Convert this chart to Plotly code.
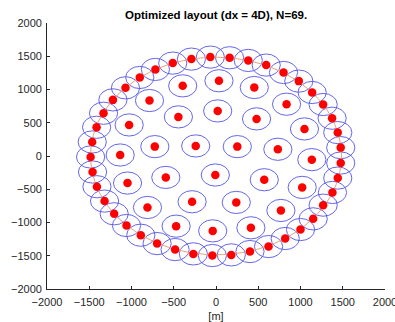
import numpy as np
import plotly.graph_objects as go

# Turbine positions [m] (outer ring then inner)
x_outer = [-67, 161, 382, 594, 799, 980, 1138, 1268, 1374, 1441, 1476, 1476, 1441, 1378,
           1268, 1150, 1000, 819, 622, 402, 181, -43, -268, -484, -697, -890, -1059, -1205,
           -1319, -1409, -1461, -1484, -1465, -1413, -1331, -1220, -1071, -902, -717, -512, -291]
y_outer = [1487, 1477, 1437, 1367, 1256, 1126, 955, 774, 568, 352, 126, -106, -332, -548,
           -739, -945, -1106, -1241, -1362, -1437, -1487, -1497, -1472, -1407, -1317, -1191,
           -1045, -869, -678, -462, -241, -15, 211, 432, 643, 844, 1025, 1181, 1302, 1397, 1457]
x_inner = [35, -394, 453, -787, 835, 20, -445, 480, -1028, 1047, -724, -240, 252, 732,
           -1134, 1134, -8, -594, 571, -1047, 1020, -283, 240, -811, 768, -472, -39, 413]
y_inner = [1131, 1055, 1030, 834, 779, 678, 588, 558, 467, 407, 141, 151, 141, 101,
           15, -55, -286, -322, -357, -407, -472, -688, -698, -774, -819, -1055, -1126, -1080]

boundary_radius = 1485
turbine_circle_radius = 167

xs = x_outer + x_inner
ys = y_outer + y_inner

fig = go.Figure()

# boundary circle
theta = np.linspace(0, 2 * np.pi, 361)
fig.add_trace(go.Scatter(x=boundary_radius * np.cos(theta), y=boundary_radius * np.sin(theta),
                         mode="lines", line=dict(color="rgb(225,165,130)", width=1),
                         hoverinfo="skip", showlegend=False))

# circles around turbines
shapes = []
for cx, cy in zip(xs, ys):
    shapes.append(dict(type="circle", xref="x", yref="y",
                       x0=cx - turbine_circle_radius, x1=cx + turbine_circle_radius,
                       y0=cy - turbine_circle_radius, y1=cy + turbine_circle_radius,
                       line=dict(color="rgb(85,85,230)", width=0.9), layer="below"))

fig.add_trace(go.Scatter(x=xs, y=ys, mode="markers",
                         marker=dict(color="rgb(255,0,0)", size=8.5, line=dict(width=0)),
                         showlegend=False, hoverinfo="skip"))

axcol = "#262626"
font_family = "Liberation Sans, Arial, sans-serif"
axis_common = dict(range=[-2000, 2000], dtick=500, tick0=-2000, showgrid=False, zeroline=False,
                   showline=True, linecolor=axcol, linewidth=0.8, ticks="inside", ticklen=3,
                   tickcolor=axcol, tickwidth=0.8, automargin=False,
                   ticklabeloverflow="allow",
                   tickfont=dict(size=11, color=axcol, family=font_family))

fig.update_layout(
    width=395, height=322,
    margin=dict(l=47, r=10, t=23, b=33, autoexpand=False),
    paper_bgcolor="white", plot_bgcolor="white",
    title=dict(text="Optimized layout (dx = 4D), N=69.", x=0.547, xanchor="center",
               y=0.955, yanchor="middle", automargin=False,
               font=dict(size=11.5, color="black", weight="bold", family=font_family)),
    xaxis=dict(**axis_common, ticklabelstandoff=3,
               title=dict(text="[m]", standoff=5,
                          font=dict(size=11, color=axcol, family=font_family))),
    yaxis=dict(**axis_common, ticklabelstandoff=2),
    shapes=shapes,
)

fig.write_html("out.html", config={"displayModeBar": False},
               post_script="document.body.style.margin='0';")
